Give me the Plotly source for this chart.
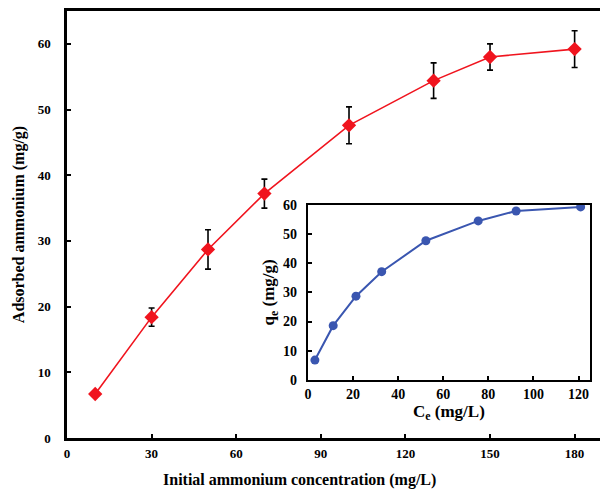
import plotly.graph_objects as go

# Initial concentration series (main axes)
c0 = [10, 30, 50, 70, 100, 130, 150, 180]
adsorbed = [6.7, 18.4, 28.7, 37.2, 47.6, 54.4, 58.0, 59.2]
adsorbed_err = [0.3, 1.4, 3.0, 2.2, 2.8, 2.7, 2.0, 2.8]

# Equilibrium concentration series (inset)
ce = [3.1, 11.2, 21.3, 32.7, 52.3, 75.5, 92.3, 120.9]
qe = [6.8, 18.6, 28.7, 37.1, 47.7, 54.5, 57.9, 59.3]

FONT = "Liberation Serif"

fig = go.Figure()

fig.add_trace(go.Scatter(
    x=c0, y=adsorbed, mode="lines+markers",
    line=dict(color="#F0141E", width=1.6),
    marker=dict(symbol="diamond", size=11, color="#F0141E"),
    error_y=dict(type="data", array=adsorbed_err, visible=True,
                 color="black", thickness=1.6, width=3),
    xaxis="x", yaxis="y", showlegend=False,
))

fig.add_trace(go.Scatter(
    x=ce, y=qe, mode="lines+markers",
    line=dict(color="#3A56B0", width=2),
    marker=dict(symbol="circle", size=9, color="#3A56B0"),
    xaxis="x2", yaxis="y2", showlegend=False,
))

tick_font = dict(family=FONT, size=13, color="black", weight="bold")
title_font = dict(family=FONT, size=16, color="black", weight="bold")
inset_tick_font = dict(family=FONT, size=14, color="black", weight="bold")
inset_title_font = dict(family=FONT, size=17, color="black", weight="bold")

fig.update_layout(
    width=600, height=496,
    margin=dict(l=67, r=0, t=11, b=58),
    paper_bgcolor="white", plot_bgcolor="white",
    xaxis=dict(
        domain=[0, 1], range=[0, 189], tickvals=[0, 30, 60, 90, 120, 150, 180],
        showgrid=False, zeroline=False, showline=True, linecolor="black",
        linewidth=2.5, mirror=True, ticks="inside", ticklen=4, tickwidth=2,
        tickcolor="black", tickfont=tick_font, ticklabelstandoff=2,
    ),
    yaxis=dict(
        domain=[0, 1], range=[0, 65], tickvals=[0, 10, 20, 30, 40, 50, 60],
        showgrid=False, zeroline=False, showline=True, linecolor="black",
        linewidth=2.5, ticks="inside", ticklen=4, tickwidth=2,
        tickcolor="black", tickfont=tick_font, ticklabelstandoff=11,
        title=dict(text="Adsorbed ammonium (mg/g)", font=title_font, standoff=10),
    ),
    xaxis2=dict(
        domain=[0.452, 0.981], anchor="y2", range=[0, 125],
        tickvals=[0, 20, 40, 60, 80, 100, 120],
        showgrid=False, zeroline=False, showline=True, linecolor="black",
        linewidth=2, mirror=True, ticks="inside", ticklen=4, tickwidth=1.5,
        tickcolor="black", tickfont=inset_tick_font,
        title=dict(text="C<sub>e</sub> (mg/L)", font=inset_title_font, standoff=2),
    ),
    yaxis2=dict(
        domain=[0.136, 0.546], anchor="x2", range=[0, 60],
        tickvals=[0, 10, 20, 30, 40, 50, 60],
        showgrid=False, zeroline=False, showline=True, linecolor="black",
        linewidth=2, mirror=True, ticks="inside", ticklen=4, tickwidth=1.5,
        tickcolor="black", tickfont=inset_tick_font, ticklabelstandoff=6,
        title=dict(text="q<sub>e</sub> (mg/g)", font=inset_title_font, standoff=4),
    ),
)

# x-axis title centred on the whole figure width
fig.add_annotation(
    text="Initial ammonium concentration (mg/L)",
    xref="paper", yref="paper", x=0.437, y=-0.098,
    xanchor="center", yanchor="middle", showarrow=False, font=title_font,
)

fig.write_html("out.html")
